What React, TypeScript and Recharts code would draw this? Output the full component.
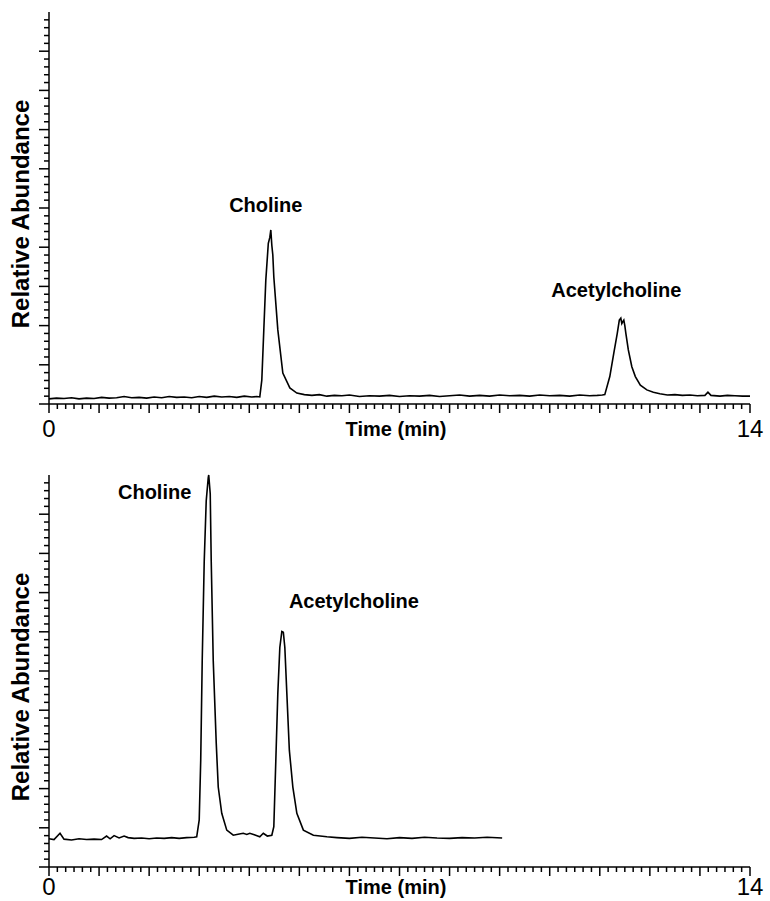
import { LineChart, Line, XAxis, YAxis, ReferenceDot, Label } from "recharts";

const FONT = "Arial, 'Liberation Sans', Helvetica, sans-serif";

// upper chromatogram: time (min) and relative abundance (%)
const topTimes = [
  0, 0.15, 0.3, 0.45, 0.6, 0.75, 0.9, 1.05, 1.2, 1.35, 1.5, 1.65, 1.8, 1.95, 2.1, 2.25, 2.4, 2.55,
  2.7, 2.85, 3.0, 3.15, 3.3, 3.45, 3.6, 3.75, 3.9, 4.05, 4.15, 4.21, 4.25, 4.29, 4.33, 4.38, 4.41,
  4.43, 4.45, 4.47, 4.49, 4.57, 4.67, 4.81, 4.95, 5.1, 5.25, 5.4, 5.55, 5.7, 5.85, 6.0, 6.2, 6.4,
  6.6, 6.8, 7.0, 7.2, 7.4, 7.6, 7.8, 8.0, 8.2, 8.4, 8.6, 8.8, 9.0, 9.2, 9.4, 9.6, 9.8, 10.0, 10.2,
  10.4, 10.6, 10.8, 10.95, 11.05, 11.1, 11.2, 11.28, 11.35, 11.39, 11.42, 11.44, 11.46, 11.48,
  11.5, 11.52, 11.57, 11.64, 11.71, 11.81, 11.94, 12.07, 12.2, 12.35, 12.5, 12.65, 12.8, 12.95,
  13.1, 13.16, 13.22, 13.4, 13.55, 13.7, 13.85, 14.0,
];
const topValues = [
  1.3, 1.5, 1.4, 1.6, 1.3, 1.5, 1.4, 1.7, 1.5, 1.6, 1.9, 1.6, 1.7, 1.5, 1.8, 1.6, 1.9, 1.7,
  1.8, 1.6, 1.9, 1.7, 2.0, 1.8, 1.9, 1.7, 2.0, 1.8, 1.9, 1.8, 6.1, 18.9, 31.6, 41.0, 42.5,
  44.4, 40.5, 38.0, 32.4, 18.9, 7.9, 4.1, 2.8, 2.4, 2.2, 2.4, 2.0, 2.2, 2.1, 2.3, 1.9, 2.1,
  2.0, 2.2, 1.9, 2.1, 2.0, 2.2, 1.9, 2.1, 2.3, 2.0, 2.2, 2.0, 2.3, 2.1, 2.2, 2.0, 2.3, 2.1, 2.2,
  2.0, 2.3, 2.1, 2.2, 2.3, 2.4, 7.0, 13.0, 18.1, 21.4, 21.9,
  20.5, 21.0, 21.4,
  20.0, 18.1, 13.8, 9.5, 7.0, 4.8, 3.6, 3.0, 2.6, 2.3, 2.4, 2.2, 2.3, 2.1,
  2.2, 3.0, 2.2, 2.0, 2.2, 2.1, 2.0, 2.0,
];

// lower chromatogram
const bottomTimes = [
  0, 0.1, 0.22, 0.3, 0.45, 0.6, 0.75, 0.9, 1.05, 1.15, 1.22, 1.3, 1.4, 1.5, 1.58, 1.7, 1.85, 2.0,
  2.15, 2.3, 2.45, 2.6, 2.75, 2.9, 2.95, 3.0, 3.03, 3.06, 3.1, 3.14, 3.18, 3.19, 3.22, 3.24, 3.28,
  3.34, 3.38, 3.45, 3.55, 3.68, 3.8, 3.88, 3.95, 4.01, 4.1, 4.21, 4.28, 4.36, 4.45, 4.49, 4.53,
  4.57, 4.61, 4.65, 4.68, 4.71, 4.75, 4.8, 4.87, 4.95, 5.08, 5.28, 5.55, 5.75, 6.0, 6.25, 6.5,
  6.75, 7.0, 7.25, 7.5, 7.75, 8.0, 8.25, 8.5, 8.75, 9.05,
];
const bottomValues = [
  7.2, 7.0, 8.6, 7.1, 6.9, 7.2, 7.0, 7.1, 7.0, 7.9, 7.2, 8.0, 7.4, 7.9, 7.5, 7.3, 7.4, 7.2,
  7.4, 7.3, 7.5, 7.3, 7.5, 7.6, 7.7, 12.0, 27.2, 52.7, 78.0, 93.4, 99.3, 100, 95.2, 78.0, 52.7,
  31.6, 20.4, 13.7, 9.4, 8.1, 8.4, 8.6, 8.3, 8.6, 8.2, 7.7, 8.6, 7.9, 8.1, 10.3, 27.2,
  44.3, 56.0, 60.1, 59.9, 56.0, 44.3, 29.8, 20.4, 13.7, 9.4, 8.1, 7.7, 7.5, 7.3, 7.6, 7.4,
  7.2, 7.5, 7.3, 7.6, 7.4, 7.3, 7.5, 7.4, 7.6, 7.4,
];

// peak annotations: name, time, abundance
const topPeakNames = ["Choline", "Acetylcholine"];
const topPeakTimes = [4.33, 11.33];
const topPeakLevels = [50.8, 29.1];
const bottomPeakNames = ["Choline", "Acetylcholine"];
const bottomPeakTimes = [2.11, 6.09];
const bottomPeakLevels = [95.7, 67.9];

// ticks: minor every 10 s, major every minute; y minor every 2 %, major every 10 %
const xTicks = Array.from({ length: 85 }, (_, i) => i / 6);
const yTicks = Array.from({ length: 50 }, (_, i) => i * 2);
const xEndLabels = [0, 14];

const topData = topTimes.map((t, i) => ({ t, v: topValues[i] }));
const bottomData = bottomTimes.map((t, i) => ({ t, v: bottomValues[i] }));

const XTick = (props: any) => {
  const { x, y, payload, labelGap } = props;
  const v = payload.value;
  const major = Math.abs(v - Math.round(v)) < 1e-6;
  const showLabel = xEndLabels.some((l) => Math.abs(l - v) < 1e-6);
  return (
    <g>
      <line x1={x} x2={x} y1={y} y2={y + (major ? 9 : 5)} stroke="#000" strokeWidth={1.5} />
      {showLabel && (
        <text x={x} y={y + labelGap} textAnchor="middle" fontSize={24} fontFamily={FONT} fill="#000">
          {Math.round(v)}
        </text>
      )}
    </g>
  );
};

const YTick = (props: any) => {
  const { x, y, payload } = props;
  const major = payload.value % 10 === 0;
  return <line x1={x} x2={x - (major ? 10 : 5)} y1={y} y2={y} stroke="#000" strokeWidth={1.5} />;
};

const XTitle = ({ viewBox, gap }: any) => (
  <text x={396} y={viewBox.y + gap} textAnchor="middle" fontSize={20} fontWeight="bold" fontFamily={FONT} fill="#000">
    Time (min)
  </text>
);

const YTitle = ({ viewBox, shift }: any) => {
  const cy = viewBox.y + viewBox.height / 2 + shift;
  return (
    <text
      x={29}
      y={cy}
      transform={`rotate(-90 29 ${cy})`}
      textAnchor="middle"
      fontSize={24}
      fontWeight="bold"
      fontFamily={FONT}
      fill="#000"
    >
      Relative Abundance
    </text>
  );
};

const PeakName = (text: string) => (p: any) => (
  <text x={p.cx} y={p.cy + 7} textAnchor="middle" fontSize={20} fontWeight="bold" fontFamily={FONT} fill="#000">
    {text}
  </text>
);

function Chromatogram({ data, names, times, levels, height, bottom, titleShift, labelGap }: any) {
  return (
    <LineChart width={770} height={height} data={data} margin={{ top: 12, right: 20, bottom, left: 48 }}>
      <XAxis
        dataKey="t"
        type="number"
        domain={[0, 14]}
        ticks={xTicks}
        interval={0}
        height={1}
        tickSize={0}
        tickMargin={0}
        tick={<XTick labelGap={labelGap} />}
        axisLine={{ stroke: "#000", strokeWidth: 1.5 }}
        tickLine={false}
      >
        <Label content={<XTitle gap={labelGap - 1} />} />
      </XAxis>
      <YAxis
        type="number"
        domain={[0, 100]}
        ticks={yTicks}
        interval={0}
        width={1}
        tickSize={0}
        tickMargin={0}
        tick={<YTick />}
        axisLine={{ stroke: "#000", strokeWidth: 1.5 }}
        tickLine={false}
      >
        <Label content={<YTitle shift={titleShift} />} />
      </YAxis>
      <Line
        type="linear"
        dataKey="v"
        stroke="#000"
        strokeWidth={1.6}
        dot={false}
        isAnimationActive={false}
      />
      {names.map((n: string, i: number) => (
        <ReferenceDot key={n} x={times[i]} y={levels[i]} r={0} shape={PeakName(n)} ifOverflow="visible" />
      ))}
    </LineChart>
  );
}

export default function App() {
  return (
    <div style={{ position: "absolute", left: 0, top: 0, width: 770, height: 901, background: "#fff" }}>
      <Chromatogram
        data={topData}
        names={topPeakNames}
        times={topPeakTimes}
        levels={topPeakLevels}
        height={463}
        bottom={58}
        titleShift={6}
        labelGap={33}
      />
      <Chromatogram
        data={bottomData}
        names={bottomPeakNames}
        times={bottomPeakTimes}
        levels={bottomPeakLevels}
        height={438}
        bottom={33}
        titleShift={16}
        labelGap={28}
      />
    </div>
  );
}
